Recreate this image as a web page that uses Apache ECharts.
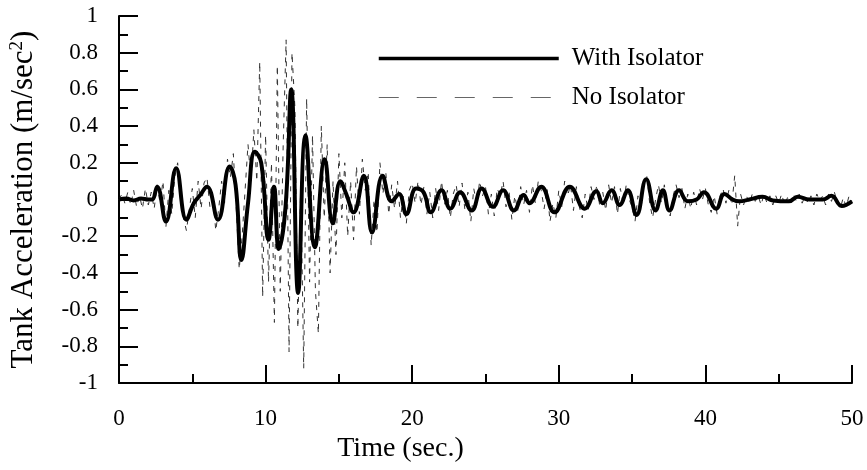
<!DOCTYPE html>
<html>
<head>
<meta charset="utf-8">
<script src="https://cdn.jsdelivr.net/npm/echarts@6/dist/echarts.min.js"></script>
<style>
html,body{margin:0;padding:0;background:#fff;}
#chart{width:867px;height:470px;}
</style>
</head>
<body>
<div id="chart"></div>
<script>
// ---- Data ----
var xTicks = [0, 10, 20, 30, 40, 50];
var yTicks = [-1, -0.8, -0.6, -0.4, -0.2, 0, 0.2, 0.4, 0.6, 0.8, 1];
var seriesNames = ['With Isolator', 'No Isolator'];

// With Isolator: [time (s), acceleration (m/s^2)] at peaks / troughs
var withIsolator = [
  [0,0],[0.5,0.005],[1.0,-0.005],[1.5,0.005],[2.0,0.0],[2.25,0.0],[2.6,0.07],[3.2,-0.12],
  [3.9,0.17],[4.6,-0.11],[5.1,-0.02],[5.5,0.02],[6.0,0.07],[6.75,-0.11],[7.55,0.18],[7.95,0.08],
  [8.35,-0.33],[8.8,-0.02],[9.27,0.26],[9.7,0.2],[10.2,-0.22],[10.57,0.07],[10.9,-0.27],[11.36,-0.04],
  [11.75,0.6],[12.22,-0.51],[12.72,0.35],[13.36,-0.26],[14.03,0.22],[14.58,-0.13],[15.1,0.1],[15.5,0.03],
  [16.0,-0.07],[16.7,0.13],[17.26,-0.18],[17.98,0.13],[18.6,-0.01],[19.1,0.03],[19.6,-0.08],[20.27,0.06],
  [20.77,0.04],[21.27,-0.07],[22.0,0.05],[22.6,-0.05],[23.27,0.04],[24.06,-0.06],[24.74,0.06],[25.5,-0.04],
  [26.2,0.05],[26.94,-0.06],[27.6,0.025],[28.0,-0.02],[28.8,0.07],[29.7,-0.07],[30.75,0.07],[31.77,-0.05],
  [32.56,0.045],[33.0,-0.02],[33.6,0.05],[34.15,-0.03],[34.7,0.05],[35.3,-0.085],[35.96,0.11],[36.6,-0.06],
  [37.1,0.05],[37.55,-0.06],[38.2,0.05],[38.8,-0.01],[39.4,0.0],[39.9,0.04],[40.73,-0.05],[41.3,0.03],
  [41.86,0.0],[42.3,-0.01],[43.0,0.0],[43.9,0.015],[44.6,-0.005],[45.7,-0.01],[46.3,0.015],[47.1,0.0],
  [48.0,0.0],[48.6,0.02],[49.3,-0.035],[50,-0.01]
];

// No Isolator: sampled every 0.2 s from t = 0 to t = 50
var noIsolatorStep = 0.2;
var noIsolatorValues = [
  0.00, 0.03,-0.02, 0.04,-0.03,   0.05,-0.04, 0.02,-0.05, 0.06,
 -0.03, 0.04,-0.05, 0.08,-0.02,   0.10,-0.15, 0.05,-0.08, 0.12,
  0.20, 0.05,-0.10,-0.17,-0.05,   0.06,-0.10, 0.10,-0.05, 0.09,
  0.12,-0.04, 0.02,-0.17,-0.05,   0.10,-0.02, 0.22, 0.12, 0.25,
 -0.05,-0.38,-0.20, 0.05, 0.30,   0.10, 0.38, 0.10, 0.75,-0.53,
  0.35,-0.45, 0.20,-0.67, 0.73,  -0.50, 0.30, 0.87,-0.83, 0.80,
  0.50,-0.70, 0.10,-0.92, 0.55,  -0.45, 0.35,-0.50,-0.73, 0.40,
 -0.10, 0.30,-0.40, 0.10,-0.30,   0.25,-0.10, 0.20,-0.20, 0.10,
 -0.22, 0.18,-0.08, 0.22, 0.05,   0.15,-0.25, 0.00,-0.18, 0.20,
  0.03, 0.15,-0.08, 0.08,-0.05,   0.10,-0.10, 0.02,-0.13, 0.05,
  0.09,-0.02, 0.10,-0.03, 0.07,  -0.08, 0.04,-0.10, 0.06,-0.06,
  0.10,-0.03, 0.05,-0.10, 0.03,   0.08,-0.04, 0.09,-0.06, 0.04,
 -0.12, 0.06,-0.03, 0.10, 0.02,   0.07,-0.08, 0.03,-0.09, 0.06,
  0.02, 0.10,-0.04, 0.05,-0.11,   0.02,-0.06, 0.07,-0.03, 0.05,
 -0.07, 0.08,-0.02, 0.10, 0.05,  -0.05, 0.06,-0.12,-0.02,-0.10,
  0.05,-0.04, 0.10, 0.02, 0.08,  -0.06, 0.07,-0.04,-0.10, 0.03,
 -0.06, 0.07, 0.00, 0.08,-0.04,   0.04,-0.06, 0.08,-0.02, 0.07,
 -0.08, 0.06,-0.03, 0.08, 0.00,  -0.04,-0.12, 0.02,-0.06, 0.10,
  0.13,-0.02,-0.10, 0.00, 0.08,  -0.02, 0.08,-0.04,-0.09, 0.02,
  0.08, 0.01, 0.06,-0.05, 0.03,  -0.05, 0.04,-0.03, 0.06, 0.00,
  0.06,-0.03,-0.07, 0.02,-0.08,   0.02, 0.06,-0.02, 0.05,-0.03,
  0.13,-0.145,0.03,-0.03, 0.02,  -0.02, 0.03,-0.01, 0.02,-0.03,
  0.03,-0.02, 0.02,-0.03, 0.02,  -0.02, 0.03,-0.03, 0.01,-0.02,
  0.03,-0.01, 0.03,-0.02, 0.02,  -0.02, 0.02,-0.03, 0.03,-0.01,
  0.02,-0.03, 0.03,-0.01, 0.04,  -0.02,-0.05, 0.01,-0.04, 0.02,
 -0.01
];

// ---- Build chart ----
var noIsolator = noIsolatorValues.map(function (v, i) {
  return [Math.round(i * noIsolatorStep * 100) / 100, v];
});

var FONT = '"Liberation Serif", "Times New Roman", serif';
var chart = echarts.init(document.getElementById('chart'), null, {renderer: 'canvas'});

chart.setOption({
  animation: false,
  backgroundColor: '#ffffff',
  grid: {left: 118, right: 15, top: 16, bottom: 87, containLabel: false},
  legend: {
    show: true,
    orient: 'vertical',
    left: 372,
    top: 41,
    itemWidth: 180,
    itemHeight: 20,
    itemGap: 14,
    itemStyle: {opacity: 0},
    textStyle: {fontFamily: FONT, fontSize: 25, color: '#000', padding: [0, 0, 0, 8]},
    data: [
      {name: seriesNames[0], lineStyle: {width: 3.5, color: '#000'}},
      {name: seriesNames[1], lineStyle: {width: 1, color: '#666', type: [20, 18]}}
    ]
  },
  xAxis: {
    type: 'value',
    min: xTicks[0],
    max: xTicks[xTicks.length - 1],
    interval: 10,
    name: 'Time (sec.)',
    nameLocation: 'middle',
    nameGap: 44,
    nameTextStyle: {fontFamily: FONT, fontSize: 28, color: '#000', padding: [0, 170, 0, 0]},
    axisLine: {show: true, onZero: false, lineStyle: {color: '#000', width: 2}},
    axisTick: {show: true, inside: true, length: 18, lineStyle: {color: '#000', width: 2}},
    minorTick: {show: true, splitNumber: 2, length: 9, lineStyle: {color: '#000', width: 2}},
    axisLabel: {fontFamily: FONT, fontSize: 23, color: '#000', margin: 24, showMaxLabel: true, showMinLabel: true},
    splitLine: {show: false},
    minorSplitLine: {show: false}
  },
  yAxis: {
    type: 'value',
    min: yTicks[0],
    max: yTicks[yTicks.length - 1],
    interval: 0.2,
    name: 'Tank Acceleration (m/sec{sup|2})',
    nameLocation: 'middle',
    nameGap: 80,
    nameRotate: 90,
    nameTextStyle: {
      fontFamily: FONT, fontSize: 31, color: '#000',
      rich: {sup: {fontFamily: FONT, fontSize: 19, color: '#000', verticalAlign: 'top', padding: [0, 0, 11, 0]}}
    },
    axisLine: {show: true, onZero: false, lineStyle: {color: '#000', width: 2}},
    axisTick: {show: true, inside: true, length: 19, lineStyle: {color: '#000', width: 2}},
    minorTick: {show: true, splitNumber: 2, length: 9, lineStyle: {color: '#000', width: 2}},
    axisLabel: {
      fontFamily: FONT, fontSize: 23, color: '#000', margin: 21,
      formatter: function (v) { return String(Math.round(v * 10) / 10); }
    },
    splitLine: {show: false},
    minorSplitLine: {show: false}
  },
  series: [
    {
      name: seriesNames[1],
      type: 'line',
      data: noIsolator,
      symbol: 'none',
      showSymbol: false,
      smooth: false,
      z: 2,
      lineStyle: {color: '#333', width: 1, type: [5, 6]},
      itemStyle: {color: '#555'}
    },
    {
      name: seriesNames[0],
      type: 'line',
      data: withIsolator,
      symbol: 'none',
      showSymbol: false,
      smooth: 0.45,
      z: 3,
      lineStyle: {color: '#000', width: 4},
      itemStyle: {color: '#000'}
    }
  ]
});
</script>
</body>
</html>
